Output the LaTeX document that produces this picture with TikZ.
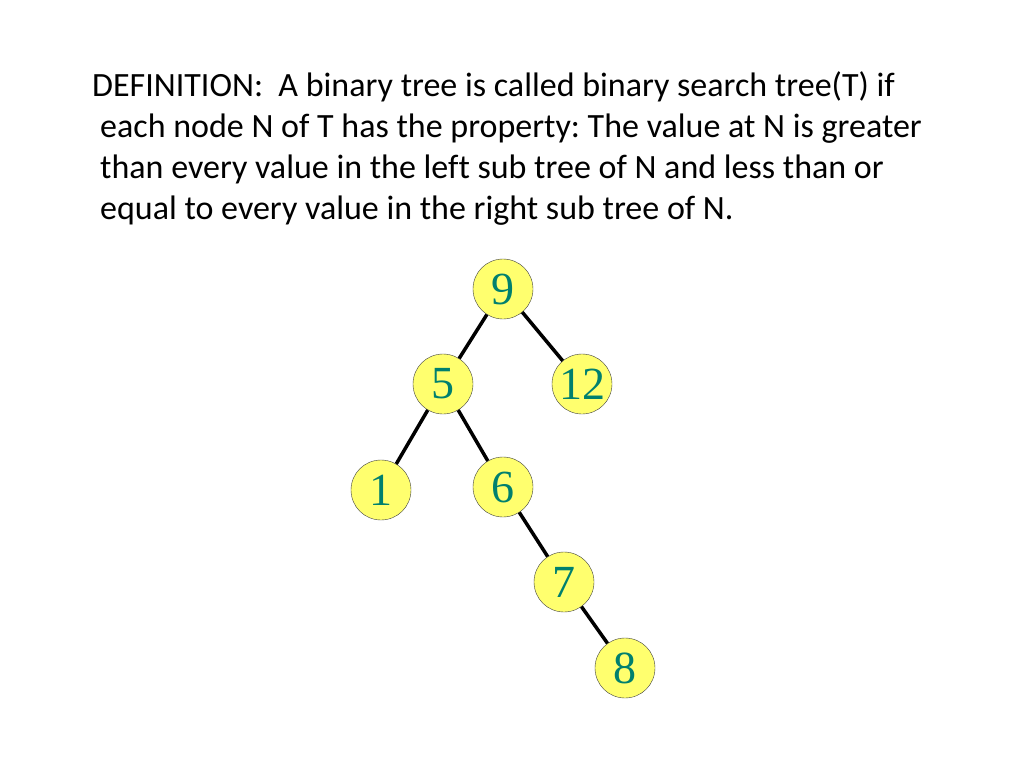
\documentclass[tikz,border=0pt]{standalone}
\usepackage{fontspec}
\setmainfont{Carlito}[Ligatures=NoCommon]
\newfontfamily\numfont{Liberation Serif}
\tikzset{>=latex}
\definecolor{keyfill}{RGB}{255,255,110}
\definecolor{keytext}{RGB}{0,128,110}
\frenchspacing

\begin{document}
\begin{tikzpicture}[x=1pt, y=-1pt,
    key/.style={circle, draw=black!75, thin, fill=keyfill, minimum size=60pt, inner sep=0pt,
        text=keytext, font=\numfont\fontsize{46}{46}\selectfont},
    link/.style={line width=3.5pt},
    defline/.style={anchor=base west, inner sep=0pt, font=\fontsize{34}{40}\selectfont}]
    \useasboundingbox (0, 0) rectangle (1024, 768);
    % definition text
    \node[defline] (l1) at (92, 96) {DEFINITION:\ \ A binary tree is called binary search tree(T) if};
    \node[defline] (l2) at (100, 137) {each node N of T has the property: The value at N is greater};
    \node[defline] (l3) at (100, 178) {than every value in the left sub tree of N and less than or};
    \node[defline] (l4) at (100, 219) {equal to every value in the right sub tree of N.};
    % the tree
    \node[key] (k9) at (503, 289) {9};
    \node[key] (k5) at (443, 384) {5};
    \node[key] (k12) at (582, 384) {12};
    \node[key] (k1) at (381, 490) {1};
    \node[key] (k6) at (503, 487) {6};
    \node[key] (k7) at (564, 582) {7};
    \node[key] (k8) at (625, 668) {8};
    \draw[link] (k9)--(k5);
    \draw[link] (k9)--(k12);
    \draw[link] (k5)--(k1);
    \draw[link] (k5)--(k6);
    \draw[link] (k6)--(k7);
    \draw[link] (k7)--(k8);
\end{tikzpicture}
\end{document}
